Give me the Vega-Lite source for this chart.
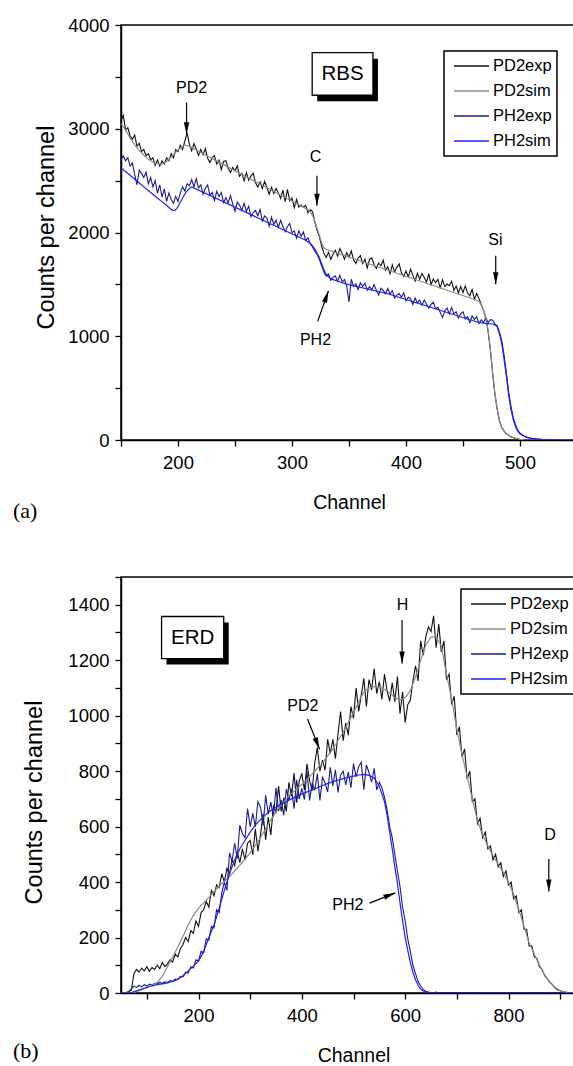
{
  "$schema": "https://vega.github.io/schema/vega-lite/v6.json",
  "padding": {"left": 12, "top": 15, "right": 0, "bottom": 0},
  "spacing": 44,
  "background": "white",
  "config": {
    "view": {"stroke": "black", "strokeWidth": 1.5},
    "axis": {
      "domainColor": "black", "domainWidth": 1.5, "tickColor": "black", "tickWidth": 1.3, "tickSize": 6,
      "labelColor": "black", "labelFont": "Liberation Sans", "labelFontSize": 18.5, "labelPadding": 6,
      "titleColor": "black", "titleFontWeight": "normal", "grid": false, "labelFlush": false, "labelOverlap": false
    },
    "axisX": {"titleFont": "Liberation Sans", "titleFontSize": 19.5, "titlePadding": 22, "labelPadding": 7},
    "axisY": {"titleFont": "Liberation Sans", "titleFontSize": 23.5},
    "legend": {
      "symbolType": "stroke", "symbolSize": 1225, "symbolStrokeWidth": 1.6, "symbolOffset": 4,
      "labelFont": "Liberation Sans", "labelFontSize": 16.5, "labelColor": "black", "labelOffset": 3,
      "strokeColor": "black", "fillColor": "white", "padding": 5, "rowPadding": 5, "clipHeight": 20
    }
  },
  "datasets": {
    "rbsExp": [
      {"x":150,"PD2exp":3080,"PH2exp":2700},{"x":152,"PD2exp":3130,"PH2exp":2740},{"x":154,"PD2exp":2990,"PH2exp":2690},{"x":156,"PD2exp":3010,"PH2exp":2720},
      {"x":158,"PD2exp":2930,"PH2exp":2640},{"x":160,"PD2exp":2900,"PH2exp":2670},{"x":162,"PD2exp":2940,"PH2exp":2560},{"x":164,"PD2exp":2830,"PH2exp":2460},
      {"x":166,"PD2exp":2860,"PH2exp":2600},{"x":168,"PD2exp":2780,"PH2exp":2570},{"x":170,"PD2exp":2800,"PH2exp":2530},{"x":172,"PD2exp":2740,"PH2exp":2580},
      {"x":174,"PD2exp":2760,"PH2exp":2470},{"x":176,"PD2exp":2700,"PH2exp":2530},{"x":178,"PD2exp":2720,"PH2exp":2440},{"x":180,"PD2exp":2650,"PH2exp":2500},
      {"x":182,"PD2exp":2700,"PH2exp":2380},{"x":184,"PD2exp":2640,"PH2exp":2460},{"x":186,"PD2exp":2690,"PH2exp":2340},{"x":188,"PD2exp":2660,"PH2exp":2420},
      {"x":190,"PD2exp":2720,"PH2exp":2300},{"x":192,"PD2exp":2690,"PH2exp":2380},{"x":194,"PD2exp":2760,"PH2exp":2320},{"x":196,"PD2exp":2720,"PH2exp":2280},
      {"x":198,"PD2exp":2800,"PH2exp":2350},{"x":200,"PD2exp":2780,"PH2exp":2300},{"x":202,"PD2exp":2840,"PH2exp":2380},{"x":204,"PD2exp":2800,"PH2exp":2440},
      {"x":206,"PD2exp":2880,"PH2exp":2400},{"x":208,"PD2exp":2960,"PH2exp":2470},{"x":210,"PD2exp":2850,"PH2exp":2450},{"x":212,"PD2exp":2788,"PH2exp":2510},
      {"x":214,"PD2exp":2857,"PH2exp":2440},{"x":216,"PD2exp":2805,"PH2exp":2519},{"x":218,"PD2exp":2743,"PH2exp":2429},{"x":220,"PD2exp":2801,"PH2exp":2459},
      {"x":222,"PD2exp":2750,"PH2exp":2369},{"x":224,"PD2exp":2808,"PH2exp":2428},{"x":226,"PD2exp":2716,"PH2exp":2458},{"x":228,"PD2exp":2674,"PH2exp":2358},
      {"x":230,"PD2exp":2723,"PH2exp":2387},{"x":232,"PD2exp":2741,"PH2exp":2307},{"x":234,"PD2exp":2659,"PH2exp":2397},{"x":236,"PD2exp":2697,"PH2exp":2346},
      {"x":238,"PD2exp":2606,"PH2exp":2386},{"x":240,"PD2exp":2684,"PH2exp":2286},{"x":242,"PD2exp":2692,"PH2exp":2336},{"x":244,"PD2exp":2620,"PH2exp":2285},
      {"x":246,"PD2exp":2579,"PH2exp":2355},{"x":248,"PD2exp":2627,"PH2exp":2275},{"x":250,"PD2exp":2595,"PH2exp":2204},{"x":252,"PD2exp":2643,"PH2exp":2294},
      {"x":254,"PD2exp":2542,"PH2exp":2264},{"x":256,"PD2exp":2570,"PH2exp":2213},{"x":258,"PD2exp":2498,"PH2exp":2283},{"x":260,"PD2exp":2577,"PH2exp":2203},
      {"x":262,"PD2exp":2505,"PH2exp":2253},{"x":264,"PD2exp":2543,"PH2exp":2152},{"x":266,"PD2exp":2571,"PH2exp":2192},{"x":268,"PD2exp":2480,"PH2exp":2212},
      {"x":270,"PD2exp":2438,"PH2exp":2161},{"x":272,"PD2exp":2486,"PH2exp":2221},{"x":274,"PD2exp":2424,"PH2exp":2111},{"x":276,"PD2exp":2493,"PH2exp":2160},
      {"x":278,"PD2exp":2431,"PH2exp":2140},{"x":280,"PD2exp":2369,"PH2exp":2060},{"x":282,"PD2exp":2437,"PH2exp":2149},{"x":284,"PD2exp":2376,"PH2exp":2079},
      {"x":286,"PD2exp":2424,"PH2exp":2119},{"x":288,"PD2exp":2382,"PH2exp":2048},{"x":290,"PD2exp":2330,"PH2exp":2118},{"x":292,"PD2exp":2409,"PH2exp":2058},
      {"x":294,"PD2exp":2297,"PH2exp":2008},{"x":296,"PD2exp":2415,"PH2exp":2057},{"x":298,"PD2exp":2303,"PH2exp":2087},{"x":300,"PD2exp":2332,"PH2exp":1997},
      {"x":302,"PD2exp":2240,"PH2exp":2016},{"x":304,"PD2exp":2318,"PH2exp":1946},{"x":306,"PD2exp":2246,"PH2exp":2016},{"x":308,"PD2exp":2265,"PH2exp":1965},
      {"x":310,"PD2exp":2243,"PH2exp":2005},{"x":312,"PD2exp":2261,"PH2exp":1925},{"x":314,"PD2exp":2190,"PH2exp":1950},{"x":316,"PD2exp":2220,"PH2exp":1890},
      {"x":318,"PD2exp":2205,"PH2exp":1860},{"x":320,"PD2exp":2100,"PH2exp":1820},{"x":322,"PD2exp":2020,"PH2exp":1790},{"x":324,"PD2exp":1960,"PH2exp":1740},
      {"x":326,"PD2exp":1870,"PH2exp":1680},{"x":328,"PD2exp":1800,"PH2exp":1620},{"x":330,"PD2exp":1760,"PH2exp":1580},{"x":332,"PD2exp":1810,"PH2exp":1600},
      {"x":334,"PD2exp":1740,"PH2exp":1540},{"x":336,"PD2exp":1790,"PH2exp":1570},{"x":338,"PD2exp":1828,"PH2exp":1580},{"x":340,"PD2exp":1772,"PH2exp":1531},
      {"x":342,"PD2exp":1845,"PH2exp":1587},{"x":344,"PD2exp":1799,"PH2exp":1525},{"x":346,"PD2exp":1742,"PH2exp":1546},{"x":348,"PD2exp":1806,"PH2exp":1483},
      {"x":350,"PD2exp":1760,"PH2exp":1330},{"x":352,"PD2exp":1823,"PH2exp":1550},{"x":354,"PD2exp":1737,"PH2exp":1482},{"x":356,"PD2exp":1700,"PH2exp":1504},
      {"x":358,"PD2exp":1754,"PH2exp":1450},{"x":360,"PD2exp":1777,"PH2exp":1515},{"x":362,"PD2exp":1701,"PH2exp":1482},{"x":364,"PD2exp":1744,"PH2exp":1512},
      {"x":366,"PD2exp":1658,"PH2exp":1444},{"x":368,"PD2exp":1741,"PH2exp":1480},{"x":370,"PD2exp":1755,"PH2exp":1447},{"x":372,"PD2exp":1689,"PH2exp":1498},
      {"x":374,"PD2exp":1652,"PH2exp":1444},{"x":376,"PD2exp":1706,"PH2exp":1397},{"x":378,"PD2exp":1679,"PH2exp":1462},{"x":380,"PD2exp":1733,"PH2exp":1442},
      {"x":382,"PD2exp":1636,"PH2exp":1409},{"x":384,"PD2exp":1670,"PH2exp":1460},{"x":386,"PD2exp":1603,"PH2exp":1404},{"x":388,"PD2exp":1687,"PH2exp":1439},
      {"x":390,"PD2exp":1621,"PH2exp":1369},{"x":392,"PD2exp":1664,"PH2exp":1397},{"x":394,"PD2exp":1698,"PH2exp":1411},{"x":396,"PD2exp":1611,"PH2exp":1376},
      {"x":398,"PD2exp":1575,"PH2exp":1418},{"x":400,"PD2exp":1629,"PH2exp":1341},{"x":402,"PD2exp":1572,"PH2exp":1376},{"x":404,"PD2exp":1646,"PH2exp":1362},
      {"x":406,"PD2exp":1589,"PH2exp":1306},{"x":408,"PD2exp":1533,"PH2exp":1369},{"x":410,"PD2exp":1607,"PH2exp":1321},{"x":412,"PD2exp":1550,"PH2exp":1349},
      {"x":414,"PD2exp":1604,"PH2exp":1300},{"x":416,"PD2exp":1567,"PH2exp":1349},{"x":418,"PD2exp":1521,"PH2exp":1307},{"x":420,"PD2exp":1604,"PH2exp":1272},
      {"x":422,"PD2exp":1498,"PH2exp":1307},{"x":424,"PD2exp":1551,"PH2exp":1328},{"x":426,"PD2exp":1515,"PH2exp":1265},{"x":428,"PD2exp":1549,"PH2exp":1279},
      {"x":430,"PD2exp":1462,"PH2exp":1230},{"x":432,"PD2exp":1546,"PH2exp":1180},{"x":434,"PD2exp":1479,"PH2exp":1244},{"x":436,"PD2exp":1503,"PH2exp":1272},
      {"x":438,"PD2exp":1487,"PH2exp":1216},{"x":440,"PD2exp":1529,"PH2exp":1279},{"x":442,"PD2exp":1442,"PH2exp":1216},{"x":444,"PD2exp":1484,"PH2exp":1237},
      {"x":446,"PD2exp":1417,"PH2exp":1174},{"x":448,"PD2exp":1479,"PH2exp":1216},{"x":450,"PD2exp":1422,"PH2exp":1237},{"x":452,"PD2exp":1485,"PH2exp":1167},
      {"x":454,"PD2exp":1417,"PH2exp":1188},{"x":456,"PD2exp":1390,"PH2exp":1132},{"x":458,"PD2exp":1452,"PH2exp":1195},{"x":460,"PD2exp":1355,"PH2exp":1160},
      {"x":462,"PD2exp":1412,"PH2exp":1188},{"x":464,"PD2exp":1365,"PH2exp":1121},{"x":466,"PD2exp":1305,"PH2exp":1160},{"x":468,"PD2exp":1250,"PH2exp":1130},
      {"x":470,"PD2exp":1170,"PH2exp":1182},{"x":472,"PD2exp":1050,"PH2exp":1131},{"x":474,"PD2exp":870,"PH2exp":1160},{"x":476,"PD2exp":640,"PH2exp":1154},
      {"x":478,"PD2exp":440,"PH2exp":1120},{"x":480,"PD2exp":295,"PH2exp":1100},{"x":482,"PD2exp":185,"PH2exp":1040},{"x":484,"PD2exp":120,"PH2exp":960},
      {"x":486,"PD2exp":88,"PH2exp":820},{"x":488,"PD2exp":58,"PH2exp":650},{"x":490,"PD2exp":47,"PH2exp":470},{"x":492,"PD2exp":30,"PH2exp":330},
      {"x":494,"PD2exp":24,"PH2exp":220},{"x":496,"PD2exp":14,"PH2exp":150},{"x":498,"PD2exp":11,"PH2exp":95},{"x":500,"PD2exp":5,"PH2exp":65},
      {"x":502,"PD2exp":4,"PH2exp":50},{"x":504,"PD2exp":2,"PH2exp":37},{"x":506,"PD2exp":1,"PH2exp":28},{"x":508,"PD2exp":0,"PH2exp":22},
      {"x":510,"PD2exp":0,"PH2exp":17},{"x":520,"PD2exp":0,"PH2exp":5},{"x":530,"PD2exp":0,"PH2exp":1},{"x":540,"PD2exp":0,"PH2exp":0},{"x":550,"PD2exp":0,"PH2exp":0}
    ],
    "rbsSim": [
      {"s":"PD2sim","x":150,"y":3050},{"s":"PD2sim","x":154,"y":2990},{"s":"PD2sim","x":158,"y":2910},{"s":"PD2sim","x":162,"y":2845},
      {"s":"PD2sim","x":166,"y":2790},{"s":"PD2sim","x":170,"y":2745},{"s":"PD2sim","x":174,"y":2705},{"s":"PD2sim","x":178,"y":2678},
      {"s":"PD2sim","x":182,"y":2660},{"s":"PD2sim","x":186,"y":2658},{"s":"PD2sim","x":190,"y":2685},{"s":"PD2sim","x":194,"y":2728},
      {"s":"PD2sim","x":198,"y":2775},{"s":"PD2sim","x":202,"y":2815},{"s":"PD2sim","x":206,"y":2845},{"s":"PD2sim","x":210,"y":2830},
      {"s":"PD2sim","x":310,"y":2243},{"s":"PD2sim","x":314,"y":2220},{"s":"PD2sim","x":316,"y":2200},{"s":"PD2sim","x":318,"y":2165},
      {"s":"PD2sim","x":320,"y":2110},{"s":"PD2sim","x":322,"y":2040},{"s":"PD2sim","x":324,"y":1975},{"s":"PD2sim","x":326,"y":1900},
      {"s":"PD2sim","x":328,"y":1850},{"s":"PD2sim","x":330,"y":1838},{"s":"PD2sim","x":462,"y":1347},{"s":"PD2sim","x":464,"y":1335},
      {"s":"PD2sim","x":466,"y":1300},{"s":"PD2sim","x":468,"y":1250},{"s":"PD2sim","x":470,"y":1180},{"s":"PD2sim","x":472,"y":1060},
      {"s":"PD2sim","x":474,"y":880},{"s":"PD2sim","x":476,"y":650},{"s":"PD2sim","x":478,"y":450},{"s":"PD2sim","x":480,"y":300},
      {"s":"PD2sim","x":482,"y":180},{"s":"PD2sim","x":484,"y":120},{"s":"PD2sim","x":486,"y":85},{"s":"PD2sim","x":488,"y":60},
      {"s":"PD2sim","x":490,"y":45},{"s":"PD2sim","x":492,"y":32},{"s":"PD2sim","x":494,"y":22},{"s":"PD2sim","x":496,"y":15},
      {"s":"PD2sim","x":498,"y":10},{"s":"PD2sim","x":500,"y":6},{"s":"PD2sim","x":504,"y":2},{"s":"PD2sim","x":510,"y":0},{"s":"PD2sim","x":550,"y":0},
      {"s":"PH2sim","x":150,"y":2625},{"s":"PH2sim","x":155,"y":2578},{"s":"PH2sim","x":160,"y":2532},{"s":"PH2sim","x":165,"y":2486},
      {"s":"PH2sim","x":170,"y":2440},{"s":"PH2sim","x":175,"y":2395},{"s":"PH2sim","x":180,"y":2350},{"s":"PH2sim","x":185,"y":2305},
      {"s":"PH2sim","x":190,"y":2262},{"s":"PH2sim","x":193,"y":2232},{"s":"PH2sim","x":195,"y":2215},{"s":"PH2sim","x":197,"y":2212},
      {"s":"PH2sim","x":199,"y":2230},{"s":"PH2sim","x":201,"y":2270},{"s":"PH2sim","x":204,"y":2330},{"s":"PH2sim","x":207,"y":2390},
      {"s":"PH2sim","x":210,"y":2425},{"s":"PH2sim","x":212,"y":2440},{"s":"PH2sim","x":312,"y":1925},{"s":"PH2sim","x":316,"y":1895},
      {"s":"PH2sim","x":318,"y":1870},{"s":"PH2sim","x":320,"y":1840},{"s":"PH2sim","x":322,"y":1800},{"s":"PH2sim","x":324,"y":1760},
      {"s":"PH2sim","x":326,"y":1700},{"s":"PH2sim","x":328,"y":1640},{"s":"PH2sim","x":330,"y":1595},{"s":"PH2sim","x":334,"y":1555},
      {"s":"PH2sim","x":340,"y":1530},{"s":"PH2sim","x":348,"y":1503},{"s":"PH2sim","x":384,"y":1410},{"s":"PH2sim","x":463,"y":1135},
      {"s":"PH2sim","x":470,"y":1125},{"s":"PH2sim","x":476,"y":1118},{"s":"PH2sim","x":478,"y":1110},{"s":"PH2sim","x":480,"y":1090},
      {"s":"PH2sim","x":482,"y":1020},{"s":"PH2sim","x":484,"y":930},{"s":"PH2sim","x":486,"y":780},{"s":"PH2sim","x":488,"y":620},
      {"s":"PH2sim","x":490,"y":440},{"s":"PH2sim","x":492,"y":300},{"s":"PH2sim","x":494,"y":200},{"s":"PH2sim","x":496,"y":130},
      {"s":"PH2sim","x":498,"y":85},{"s":"PH2sim","x":500,"y":60},{"s":"PH2sim","x":502,"y":45},{"s":"PH2sim","x":504,"y":33},
      {"s":"PH2sim","x":506,"y":25},{"s":"PH2sim","x":508,"y":20},{"s":"PH2sim","x":510,"y":15},{"s":"PH2sim","x":515,"y":8},
      {"s":"PH2sim","x":520,"y":4},{"s":"PH2sim","x":530,"y":1},{"s":"PH2sim","x":540,"y":0},{"s":"PH2sim","x":550,"y":0}
    ],
    "rbsText": [
      {"x":212,"y":3390,"t":"PD2"},{"x":320.6,"y":2729,"t":"C"},{"x":478.4,"y":1926,"t":"Si"},{"x":320.6,"y":963,"t":"PH2"}
    ],
    "rbsArrows": [
      {"k":"PD2","x":207.5,"y":2947,"x2":207.5,"y2":3252},
      {"k":"C","x":321.9,"y":2257,"x2":321.9,"y2":2546},
      {"k":"Si","x":478.7,"y":1502,"x2":478.7,"y2":1775},
      {"k":"PH2","x":332,"y":1438,"x2":322.5,"y2":1143}
    ],
    "erdExp": [
      {"x":50,"PD2exp":0,"PH2exp":0},{"x":55,"PD2exp":0,"PH2exp":0},{"x":60,"PD2exp":0,"PH2exp":2},{"x":65,"PD2exp":5,"PH2exp":5},
      {"x":70,"PD2exp":10,"PH2exp":15},{"x":75,"PD2exp":70,"PH2exp":25},{"x":80,"PD2exp":85,"PH2exp":20},{"x":85,"PD2exp":75,"PH2exp":28},
      {"x":90,"PD2exp":90,"PH2exp":22},{"x":95,"PD2exp":80,"PH2exp":30},{"x":100,"PD2exp":95,"PH2exp":25},{"x":105,"PD2exp":78,"PH2exp":32},
      {"x":110,"PD2exp":92,"PH2exp":28},{"x":115,"PD2exp":85,"PH2exp":35},{"x":120,"PD2exp":100,"PH2exp":33},{"x":125,"PD2exp":88,"PH2exp":38},
      {"x":130,"PD2exp":110,"PH2exp":35},{"x":135,"PD2exp":95,"PH2exp":40},{"x":140,"PD2exp":105,"PH2exp":38},{"x":145,"PD2exp":120,"PH2exp":45},
      {"x":150,"PD2exp":112,"PH2exp":42},{"x":155,"PD2exp":140,"PH2exp":50},{"x":160,"PD2exp":130,"PH2exp":48},{"x":165,"PD2exp":160,"PH2exp":60},
      {"x":170,"PD2exp":175,"PH2exp":58},{"x":175,"PD2exp":200,"PH2exp":75},{"x":180,"PD2exp":185,"PH2exp":72},{"x":185,"PD2exp":225,"PH2exp":95},
      {"x":190,"PD2exp":215,"PH2exp":90},{"x":195,"PD2exp":260,"PH2exp":120},{"x":200,"PD2exp":240,"PH2exp":115},{"x":205,"PD2exp":290,"PH2exp":150},
      {"x":210,"PD2exp":300,"PH2exp":145},{"x":215,"PD2exp":330,"PH2exp":195},{"x":220,"PD2exp":310,"PH2exp":190},{"x":225,"PD2exp":370,"PH2exp":240},
      {"x":230,"PD2exp":350,"PH2exp":235},{"x":235,"PD2exp":390,"PH2exp":300},{"x":240,"PD2exp":380,"PH2exp":290},{"x":245,"PD2exp":430,"PH2exp":360},
      {"x":250,"PD2exp":400,"PH2exp":400},{"x":255,"PD2exp":450,"PH2exp":370},{"x":260,"PD2exp":430,"PH2exp":505},{"x":265,"PD2exp":480,"PH2exp":475},
      {"x":270,"PD2exp":460,"PH2exp":540},{"x":275,"PD2exp":510,"PH2exp":485},{"x":280,"PD2exp":470,"PH2exp":605},{"x":285,"PD2exp":520,"PH2exp":575},
      {"x":290,"PD2exp":480,"PH2exp":560},{"x":295,"PD2exp":540,"PH2exp":665},{"x":300,"PD2exp":550,"PH2exp":600},{"x":305,"PD2exp":499,"PH2exp":648},
      {"x":310,"PD2exp":592,"PH2exp":600},{"x":315,"PD2exp":511,"PH2exp":690},{"x":320,"PD2exp":570,"PH2exp":670},{"x":325,"PD2exp":646,"PH2exp":604},
      {"x":330,"PD2exp":553,"PH2exp":713},{"x":335,"PD2exp":634,"PH2exp":645},{"x":340,"PD2exp":570,"PH2exp":688},{"x":345,"PD2exp":674,"PH2exp":634},
      {"x":350,"PD2exp":653,"PH2exp":740},{"x":355,"PD2exp":746,"PH2exp":656},{"x":360,"PD2exp":655,"PH2exp":696},{"x":365,"PD2exp":705,"PH2exp":641},
      {"x":370,"PD2exp":655,"PH2exp":735},{"x":375,"PD2exp":760,"PH2exp":695},{"x":380,"PD2exp":710,"PH2exp":735},{"x":385,"PD2exp":793,"PH2exp":665},
      {"x":390,"PD2exp":686,"PH2exp":769},{"x":395,"PD2exp":764,"PH2exp":699},{"x":400,"PD2exp":792,"PH2exp":738},{"x":405,"PD2exp":732,"PH2exp":697},
      {"x":410,"PD2exp":826,"PH2exp":800},{"x":415,"PD2exp":766,"PH2exp":694},{"x":420,"PD2exp":730,"PH2exp":757},{"x":425,"PD2exp":830,"PH2exp":731},
      {"x":430,"PD2exp":885,"PH2exp":790},{"x":435,"PD2exp":800,"PH2exp":694},{"x":440,"PD2exp":840,"PH2exp":778},{"x":445,"PD2exp":803,"PH2exp":757},
      {"x":450,"PD2exp":915,"PH2exp":725},{"x":455,"PD2exp":863,"PH2exp":814},{"x":460,"PD2exp":915,"PH2exp":747},{"x":465,"PD2exp":845,"PH2exp":805},
      {"x":470,"PD2exp":935,"PH2exp":723},{"x":475,"PD2exp":1015,"PH2exp":785},{"x":480,"PD2exp":910,"PH2exp":800},{"x":485,"PD2exp":973,"PH2exp":750},
      {"x":490,"PD2exp":930,"PH2exp":797},{"x":495,"PD2exp":1033,"PH2exp":740},{"x":500,"PD2exp":990,"PH2exp":827},{"x":505,"PD2exp":1100,"PH2exp":779},
      {"x":510,"PD2exp":1015,"PH2exp":816},{"x":515,"PD2exp":1073,"PH2exp":832},{"x":520,"PD2exp":1135,"PH2exp":733},{"x":525,"PD2exp":1033,"PH2exp":822},
      {"x":530,"PD2exp":1130,"PH2exp":795},{"x":535,"PD2exp":1093,"PH2exp":760},{"x":540,"PD2exp":1170,"PH2exp":810},{"x":545,"PD2exp":1079,"PH2exp":732},
      {"x":550,"PD2exp":1123,"PH2exp":760},{"x":555,"PD2exp":1059,"PH2exp":740},{"x":560,"PD2exp":1150,"PH2exp":705},{"x":565,"PD2exp":1089,"PH2exp":660},
      {"x":570,"PD2exp":1052,"PH2exp":600},{"x":575,"PD2exp":1119,"PH2exp":560},{"x":580,"PD2exp":1050,"PH2exp":500},{"x":585,"PD2exp":1141,"PH2exp":440},
      {"x":590,"PD2exp":1007,"PH2exp":385},{"x":595,"PD2exp":1086,"PH2exp":310},{"x":600,"PD2exp":975,"PH2exp":260},{"x":605,"PD2exp":1040,"PH2exp":195},
      {"x":610,"PD2exp":1055,"PH2exp":150},{"x":615,"PD2exp":1125,"PH2exp":100},{"x":620,"PD2exp":1180,"PH2exp":70},{"x":625,"PD2exp":1125,"PH2exp":42},
      {"x":630,"PD2exp":1270,"PH2exp":25},{"x":635,"PD2exp":1218,"PH2exp":12},{"x":640,"PD2exp":1285,"PH2exp":6},{"x":645,"PD2exp":1320,"PH2exp":3},
      {"x":650,"PD2exp":1303,"PH2exp":2},{"x":655,"PD2exp":1360,"PH2exp":0},{"x":660,"PD2exp":1245,"PH2exp":3},{"x":665,"PD2exp":1330,"PH2exp":0},
      {"x":670,"PD2exp":1230,"PH2exp":2},{"x":675,"PD2exp":1270,"PH2exp":0},{"x":680,"PD2exp":1130,"PH2exp":1},{"x":685,"PD2exp":1150,"PH2exp":0},
      {"x":690,"PD2exp":1040,"PH2exp":2},{"x":695,"PD2exp":1070,"PH2exp":0},{"x":700,"PD2exp":930,"PH2exp":0},{"x":705,"PD2exp":960,"PH2exp":2},
      {"x":710,"PD2exp":850,"PH2exp":0},{"x":715,"PD2exp":880,"PH2exp":1},{"x":720,"PD2exp":770,"PH2exp":0},{"x":725,"PD2exp":800,"PH2exp":2},
      {"x":730,"PD2exp":690,"PH2exp":0},{"x":735,"PD2exp":700,"PH2exp":0},{"x":740,"PD2exp":610,"PH2exp":2},{"x":745,"PD2exp":630,"PH2exp":0},
      {"x":750,"PD2exp":560,"PH2exp":1},{"x":755,"PD2exp":580,"PH2exp":0},{"x":760,"PD2exp":520,"PH2exp":0},{"x":765,"PD2exp":530,"PH2exp":2},
      {"x":770,"PD2exp":480,"PH2exp":0},{"x":775,"PD2exp":500,"PH2exp":1},{"x":780,"PD2exp":455,"PH2exp":0},{"x":785,"PD2exp":470,"PH2exp":0},
      {"x":790,"PD2exp":420,"PH2exp":2},{"x":795,"PD2exp":440,"PH2exp":0},{"x":800,"PD2exp":390,"PH2exp":1},{"x":805,"PD2exp":400,"PH2exp":0},
      {"x":810,"PD2exp":340,"PH2exp":0},{"x":815,"PD2exp":350,"PH2exp":2},{"x":820,"PD2exp":290,"PH2exp":0},{"x":825,"PD2exp":300,"PH2exp":1},
      {"x":830,"PD2exp":230,"PH2exp":0},{"x":835,"PD2exp":230,"PH2exp":0},{"x":840,"PD2exp":170,"PH2exp":2},{"x":845,"PD2exp":170,"PH2exp":0},
      {"x":850,"PD2exp":130,"PH2exp":1},{"x":855,"PD2exp":125,"PH2exp":0},{"x":860,"PD2exp":95,"PH2exp":0},{"x":865,"PD2exp":85,"PH2exp":2},
      {"x":870,"PD2exp":62,"PH2exp":0},{"x":875,"PD2exp":52,"PH2exp":1},{"x":880,"PD2exp":38,"PH2exp":0},{"x":885,"PD2exp":30,"PH2exp":0},
      {"x":890,"PD2exp":18,"PH2exp":2},{"x":895,"PD2exp":12,"PH2exp":0},{"x":900,"PD2exp":8,"PH2exp":1},{"x":905,"PD2exp":4,"PH2exp":0},
      {"x":910,"PD2exp":3,"PH2exp":0},{"x":915,"PD2exp":1,"PH2exp":2},{"x":920,"PD2exp":0,"PH2exp":0},{"x":925,"PD2exp":0,"PH2exp":1},
      {"x":930,"PD2exp":0,"PH2exp":0},{"x":935,"PD2exp":0,"PH2exp":0},{"x":940,"PD2exp":0,"PH2exp":1},{"x":945,"PD2exp":0,"PH2exp":0},{"x":950,"PD2exp":0,"PH2exp":0}
    ],
    "erdSim": [
      {"s":"PD2sim","x":50,"y":0},{"s":"PD2sim","x":70,"y":0},{"s":"PD2sim","x":80,"y":5},{"s":"PD2sim","x":90,"y":12},{"s":"PD2sim","x":100,"y":20},
      {"s":"PD2sim","x":110,"y":28},{"s":"PD2sim","x":120,"y":38},{"s":"PD2sim","x":130,"y":60},{"s":"PD2sim","x":140,"y":95},{"s":"PD2sim","x":150,"y":130},
      {"s":"PD2sim","x":160,"y":165},{"s":"PD2sim","x":170,"y":205},{"s":"PD2sim","x":180,"y":245},{"s":"PD2sim","x":190,"y":280},{"s":"PD2sim","x":200,"y":305},
      {"s":"PD2sim","x":210,"y":325},{"s":"PD2sim","x":220,"y":345},{"s":"PD2sim","x":230,"y":365},{"s":"PD2sim","x":240,"y":385},{"s":"PD2sim","x":250,"y":402},
      {"s":"PD2sim","x":260,"y":420},{"s":"PD2sim","x":270,"y":440},{"s":"PD2sim","x":280,"y":460},{"s":"PD2sim","x":290,"y":483},{"s":"PD2sim","x":300,"y":505},
      {"s":"PD2sim","x":320,"y":560},{"s":"PD2sim","x":340,"y":625},{"s":"PD2sim","x":360,"y":680},{"s":"PD2sim","x":380,"y":720},{"s":"PD2sim","x":400,"y":752},
      {"s":"PD2sim","x":420,"y":790},{"s":"PD2sim","x":440,"y":830},{"s":"PD2sim","x":460,"y":880},{"s":"PD2sim","x":480,"y":940},{"s":"PD2sim","x":500,"y":1010},
      {"s":"PD2sim","x":510,"y":1050},{"s":"PD2sim","x":520,"y":1085},{"s":"PD2sim","x":530,"y":1100},{"s":"PD2sim","x":540,"y":1105},{"s":"PD2sim","x":550,"y":1103},
      {"s":"PD2sim","x":560,"y":1095},{"s":"PD2sim","x":570,"y":1082},{"s":"PD2sim","x":580,"y":1065},{"s":"PD2sim","x":590,"y":1057},{"s":"PD2sim","x":600,"y":1065},
      {"s":"PD2sim","x":610,"y":1090},{"s":"PD2sim","x":620,"y":1140},{"s":"PD2sim","x":630,"y":1200},{"s":"PD2sim","x":640,"y":1255},{"s":"PD2sim","x":650,"y":1283},
      {"s":"PD2sim","x":660,"y":1285},{"s":"PD2sim","x":670,"y":1250},{"s":"PD2sim","x":680,"y":1150},{"s":"PD2sim","x":690,"y":1060},{"s":"PD2sim","x":700,"y":950},
      {"s":"PD2sim","x":710,"y":860},{"s":"PD2sim","x":720,"y":780},{"s":"PD2sim","x":730,"y":700},{"s":"PD2sim","x":740,"y":620},{"s":"PD2sim","x":750,"y":570},
      {"s":"PD2sim","x":760,"y":530},{"s":"PD2sim","x":770,"y":495},{"s":"PD2sim","x":780,"y":465},{"s":"PD2sim","x":790,"y":435},{"s":"PD2sim","x":800,"y":400},
      {"s":"PD2sim","x":810,"y":355},{"s":"PD2sim","x":820,"y":300},{"s":"PD2sim","x":830,"y":240},{"s":"PD2sim","x":840,"y":180},{"s":"PD2sim","x":850,"y":140},
      {"s":"PD2sim","x":860,"y":100},{"s":"PD2sim","x":870,"y":65},{"s":"PD2sim","x":880,"y":40},{"s":"PD2sim","x":890,"y":20},{"s":"PD2sim","x":900,"y":8},
      {"s":"PD2sim","x":910,"y":3},{"s":"PD2sim","x":920,"y":0},{"s":"PD2sim","x":950,"y":0},
      {"s":"PH2sim","x":50,"y":0},{"s":"PH2sim","x":67,"y":0},{"s":"PH2sim","x":80,"y":8},{"s":"PH2sim","x":90,"y":14},{"s":"PH2sim","x":100,"y":20},
      {"s":"PH2sim","x":110,"y":26},{"s":"PH2sim","x":120,"y":30},{"s":"PH2sim","x":130,"y":33},{"s":"PH2sim","x":140,"y":36},{"s":"PH2sim","x":150,"y":42},
      {"s":"PH2sim","x":160,"y":50},{"s":"PH2sim","x":170,"y":62},{"s":"PH2sim","x":180,"y":80},{"s":"PH2sim","x":190,"y":97},{"s":"PH2sim","x":200,"y":115},
      {"s":"PH2sim","x":210,"y":150},{"s":"PH2sim","x":220,"y":200},{"s":"PH2sim","x":230,"y":245},{"s":"PH2sim","x":240,"y":305},{"s":"PH2sim","x":250,"y":370},
      {"s":"PH2sim","x":260,"y":430},{"s":"PH2sim","x":270,"y":480},{"s":"PH2sim","x":280,"y":520},{"s":"PH2sim","x":290,"y":550},{"s":"PH2sim","x":300,"y":580},
      {"s":"PH2sim","x":310,"y":605},{"s":"PH2sim","x":320,"y":625},{"s":"PH2sim","x":330,"y":643},{"s":"PH2sim","x":340,"y":658},{"s":"PH2sim","x":350,"y":670},
      {"s":"PH2sim","x":360,"y":681},{"s":"PH2sim","x":370,"y":690},{"s":"PH2sim","x":380,"y":700},{"s":"PH2sim","x":400,"y":718},{"s":"PH2sim","x":420,"y":732},
      {"s":"PH2sim","x":440,"y":748},{"s":"PH2sim","x":460,"y":762},{"s":"PH2sim","x":480,"y":773},{"s":"PH2sim","x":500,"y":782},{"s":"PH2sim","x":510,"y":786},
      {"s":"PH2sim","x":520,"y":788},{"s":"PH2sim","x":530,"y":785},{"s":"PH2sim","x":540,"y":775},{"s":"PH2sim","x":550,"y":745},{"s":"PH2sim","x":560,"y":690},
      {"s":"PH2sim","x":565,"y":640},{"s":"PH2sim","x":570,"y":580},{"s":"PH2sim","x":575,"y":520},{"s":"PH2sim","x":580,"y":455},{"s":"PH2sim","x":585,"y":395},
      {"s":"PH2sim","x":590,"y":325},{"s":"PH2sim","x":595,"y":260},{"s":"PH2sim","x":600,"y":200},{"s":"PH2sim","x":605,"y":155},{"s":"PH2sim","x":610,"y":110},
      {"s":"PH2sim","x":615,"y":75},{"s":"PH2sim","x":620,"y":48},{"s":"PH2sim","x":625,"y":28},{"s":"PH2sim","x":630,"y":14},{"s":"PH2sim","x":635,"y":7},
      {"s":"PH2sim","x":640,"y":3},{"s":"PH2sim","x":650,"y":1},{"s":"PH2sim","x":660,"y":0},{"s":"PH2sim","x":950,"y":0}
    ],
    "erdText": [
      {"x":595,"y":1400,"t":"H"},{"x":402,"y":1036,"t":"PD2"},{"x":489,"y":317,"t":"PH2"},{"x":880.6,"y":571,"t":"D"}
    ],
    "erdArrows": [
      {"k":"H","x":594,"y":1188,"x2":594,"y2":1345},
      {"k":"D","x":878,"y":366,"x2":878,"y2":483},
      {"k":"PD2","x":434.3,"y":879,"x2":411,"y2":988},
      {"k":"PH2","x":581,"y":361,"x2":531,"y2":324}
    ]
  },
  "resolve": {"scale": {"color": "independent", "x": "independent", "y": "independent"}, "legend": {"color": "independent"}},
  "vconcat": [
    {
      "width": 456,
      "height": 415,
      "title": {"text": "(a)", "orient": "bottom", "anchor": "start", "frame": "group", "dx": -108, "offset": -11, "font": "Liberation Serif", "fontSize": 22, "fontWeight": "normal", "color": "black"},
      "encoding": {
        "x": {"field": "x", "type": "quantitative", "scale": {"domain": [150, 550], "nice": false, "zero": false},
          "axis": {"title": "Channel", "values": [150, 200, 250, 300, 350, 400, 450, 500, 550], "format": "d",
            "labelExpr": "datum.value % 100 === 0 ? datum.label : ''",
            "encode": {"ticks": {"update": {"y2": {"signal": "datum.value % 100 === 0 ? 6 : 3.5"}}}}}},
        "y": {"field": "y", "type": "quantitative", "scale": {"domain": [0, 4000], "nice": false},
          "axis": {"title": "Counts per channel", "values": [0, 500, 1000, 1500, 2000, 2500, 3000, 3500, 4000], "format": "d", "titlePadding": 9, "titleY": 202,
            "labelExpr": "datum.value % 1000 === 0 ? datum.label : ''",
            "encode": {"ticks": {"update": {"x2": {"signal": "datum.value % 1000 === 0 ? -6 : -3.5"}}}}}}
      },
      "layer": [
        {
          "data": {"name": "rbsExp"},
          "transform": [{"fold": ["PD2exp", "PH2exp"], "as": ["s", "y"]}],
          "mark": {"type": "line", "strokeWidth": 1.1, "clip": true},
          "encoding": {
            "color": {"field": "s", "type": "nominal",
              "scale": {"domain": ["PD2exp", "PD2sim", "PH2exp", "PH2sim"], "range": ["#111111", "#8c8c8c", "#1a1a8c", "#1e1eff"]},
              "legend": {"title": null, "orient": "none", "legendX": 323, "legendY": 26, "encode": {"legend": {"update": {"strokeWidth": {"value": 1.5}}}}}}
          }
        },
        {
          "data": {"name": "rbsSim"},
          "mark": {"type": "line", "strokeWidth": 1.2, "clip": true},
          "encoding": {
            "color": {"field": "s", "type": "nominal",
              "scale": {"domain": ["PD2exp", "PD2sim", "PH2exp", "PH2sim"], "range": ["#111111", "#8c8c8c", "#1a1a8c", "#1e1eff"]},
              "legend": {"title": null, "orient": "none", "legendX": 323, "legendY": 26, "encode": {"legend": {"update": {"strokeWidth": {"value": 1.5}}}}}}
          }
        },
        {
          "data": {"name": "rbsArrows"},
          "mark": {"type": "rule", "color": "black", "strokeWidth": 1.2},
          "encoding": {"x2": {"field": "x2"}, "y2": {"field": "y2"}}
        },
        {
          "data": {"name": "rbsArrows"},
          "transform": [{"filter": "datum.k !== 'PH2'"}],
          "mark": {"type": "point", "shape": "M0,1L-0.45,-1L0.45,-1Z", "size": 144, "filled": true, "color": "black", "opacity": 1, "yOffset": -6},
          "encoding": {}
        },
        {
          "data": {"name": "rbsArrows"},
          "transform": [{"filter": "datum.k === 'PH2'"}],
          "mark": {"type": "point", "shape": "M0,1L-0.45,-1L0.45,-1Z", "size": 144, "filled": true, "color": "black", "opacity": 1, "angle": 199.5, "xOffset": -2, "yOffset": 5.7},
          "encoding": {}
        },
        {
          "data": {"name": "rbsText"},
          "mark": {"type": "text", "font": "Liberation Sans", "fontSize": 16, "color": "black", "align": "center", "baseline": "middle"},
          "encoding": {"text": {"field": "t"}}
        },
        {
          "data": {"values": [{"x": 317.7, "x2": 371, "y": 3733, "y2": 3323}]},
          "mark": {"type": "rect", "color": "black", "xOffset": 5, "x2Offset": 5, "yOffset": 6, "y2Offset": 6},
          "encoding": {"x2": {"field": "x2"}, "y2": {"field": "y2"}}
        },
        {
          "data": {"values": [{"x": 317.7, "x2": 371, "y": 3733, "y2": 3323}]},
          "mark": {"type": "rect", "fill": "white", "stroke": "black", "strokeWidth": 1.3},
          "encoding": {"x2": {"field": "x2"}, "y2": {"field": "y2"}}
        },
        {
          "data": {"values": [{"x": 344.35, "y": 3528, "t": "RBS"}]},
          "mark": {"type": "text", "font": "Liberation Sans", "fontSize": 20.5, "color": "black", "align": "center", "baseline": "middle"},
          "encoding": {"text": {"field": "t"}}
        }
      ]
    },
    {
      "width": 465,
      "height": 416,
      "title": {"text": "(b)", "orient": "bottom", "anchor": "start", "frame": "group", "dx": -108, "offset": -24, "font": "Liberation Serif", "fontSize": 22, "fontWeight": "normal", "color": "black"},
      "encoding": {
        "x": {"field": "x", "type": "quantitative", "scale": {"domain": [50, 950], "nice": false, "zero": false},
          "axis": {"title": "Channel", "values": [100, 200, 300, 400, 500, 600, 700, 800, 900], "format": "d",
            "labelExpr": "datum.value % 200 === 0 ? datum.label : ''",
            "encode": {"ticks": {"update": {"y2": {"signal": "datum.value % 200 === 0 ? 6 : 3.5"}}}}}},
        "y": {"field": "y", "type": "quantitative", "scale": {"domain": [0, 1500], "nice": false},
          "axis": {"title": "Counts per channel", "values": [0, 100, 200, 300, 400, 500, 600, 700, 800, 900, 1000, 1100, 1200, 1300, 1400, 1500], "format": "d", "titlePadding": 21, "titleY": 225,
            "labelExpr": "datum.value % 200 === 0 ? datum.label : ''",
            "encode": {"ticks": {"update": {"x2": {"signal": "datum.value % 200 === 0 ? -6 : -3.5"}}}}}}
      },
      "layer": [
        {
          "data": {"name": "erdExp"},
          "transform": [{"fold": ["PD2exp", "PH2exp"], "as": ["s", "y"]}],
          "mark": {"type": "line", "strokeWidth": 1.1, "clip": true},
          "encoding": {
            "color": {"field": "s", "type": "nominal",
              "scale": {"domain": ["PD2exp", "PD2sim", "PH2exp", "PH2sim"], "range": ["#111111", "#8c8c8c", "#1a1a8c", "#1e1eff"]},
              "legend": {"title": null, "orient": "none", "legendX": 340, "legendY": 12, "encode": {"legend": {"update": {"strokeWidth": {"value": 1.5}}}}}}
          }
        },
        {
          "data": {"name": "erdSim"},
          "mark": {"type": "line", "strokeWidth": 1.2, "clip": true},
          "encoding": {
            "color": {"field": "s", "type": "nominal",
              "scale": {"domain": ["PD2exp", "PD2sim", "PH2exp", "PH2sim"], "range": ["#111111", "#8c8c8c", "#1a1a8c", "#1e1eff"]},
              "legend": {"title": null, "orient": "none", "legendX": 340, "legendY": 12, "encode": {"legend": {"update": {"strokeWidth": {"value": 1.5}}}}}}
          }
        },
        {
          "data": {"name": "erdArrows"},
          "mark": {"type": "rule", "color": "black", "strokeWidth": 1.2},
          "encoding": {"x2": {"field": "x2"}, "y2": {"field": "y2"}}
        },
        {
          "data": {"name": "erdArrows"},
          "transform": [{"filter": "datum.k === 'H' || datum.k === 'D'"}],
          "mark": {"type": "point", "shape": "M0,1L-0.45,-1L0.45,-1Z", "size": 144, "filled": true, "color": "black", "opacity": 1, "yOffset": -6},
          "encoding": {}
        },
        {
          "data": {"name": "erdArrows"},
          "transform": [{"filter": "datum.k === 'PD2'"}],
          "mark": {"type": "point", "shape": "M0,1L-0.45,-1L0.45,-1Z", "size": 144, "filled": true, "color": "black", "opacity": 1, "angle": 338.3, "xOffset": -2.2, "yOffset": -5.6},
          "encoding": {}
        },
        {
          "data": {"name": "erdArrows"},
          "transform": [{"filter": "datum.k === 'PH2'"}],
          "mark": {"type": "point", "shape": "M0,1L-0.45,-1L0.45,-1Z", "size": 144, "filled": true, "color": "black", "opacity": 1, "angle": 248.2, "xOffset": -5.6, "yOffset": 2.2},
          "encoding": {}
        },
        {
          "data": {"name": "erdText"},
          "mark": {"type": "text", "font": "Liberation Sans", "fontSize": 16, "color": "black", "align": "center", "baseline": "middle"},
          "encoding": {"text": {"field": "t"}}
        },
        {
          "data": {"values": [{"x": 128.5, "x2": 248.8, "y": 1357.6, "y2": 1206}]},
          "mark": {"type": "rect", "color": "black", "xOffset": 5, "x2Offset": 5, "yOffset": 6, "y2Offset": 6},
          "encoding": {"x2": {"field": "x2"}, "y2": {"field": "y2"}}
        },
        {
          "data": {"values": [{"x": 128.5, "x2": 248.8, "y": 1357.6, "y2": 1206}]},
          "mark": {"type": "rect", "fill": "white", "stroke": "black", "strokeWidth": 1.3},
          "encoding": {"x2": {"field": "x2"}, "y2": {"field": "y2"}}
        },
        {
          "data": {"values": [{"x": 188.65, "y": 1281.8, "t": "ERD"}]},
          "mark": {"type": "text", "font": "Liberation Sans", "fontSize": 20.5, "color": "black", "align": "center", "baseline": "middle"},
          "encoding": {"text": {"field": "t"}}
        }
      ]
    }
  ]
}
